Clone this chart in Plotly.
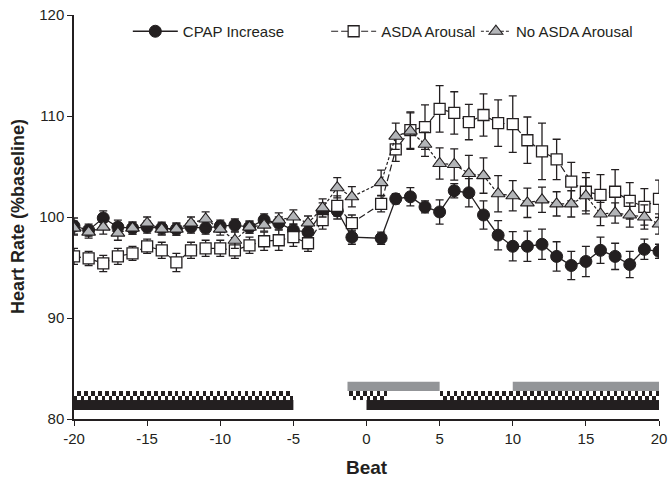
import numpy as np
import plotly.graph_objects as go

beats = list(range(-20, 0)) + list(range(1, 21))

cpap = [99.1, 98.7, 99.9, 99.0, 98.9, 99.0, 98.9, 98.8, 99.0, 98.9,
        99.1, 99.2, 99.0, 99.7, 99.4, 98.7, 98.5, 100.5, 100.6, 98.0,
        97.9, 101.8, 102.0, 101.0, 100.5, 102.6, 102.4, 100.2, 98.2, 97.1,
        97.1, 97.3, 96.1, 95.2, 95.6, 96.7, 96.1, 95.3, 96.8, 96.6]
cpap_err = [0.8, 0.6, 0.7, 0.7, 0.6, 0.6, 0.6, 0.6, 0.6, 0.6,
            0.6, 0.6, 0.6, 0.6, 0.6, 0.6, 0.6, 0.9, 0.8, 0.7,
            0.6, 0.5, 0.9, 0.6, 1.2, 0.7, 1.4, 1.4, 1.45, 1.45,
            1.5, 1.5, 1.45, 1.4, 1.5, 1.3, 1.3, 1.3, 1.0, 0.7]

asda = [96.1, 95.9, 95.4, 96.1, 96.4, 97.1, 96.7, 95.5, 96.7, 96.9,
        96.9, 96.7, 97.2, 97.6, 97.7, 98.0, 97.4, 99.7, 101.1, 99.4,
        101.3, 106.7, 108.6, 108.9, 110.7, 110.3, 109.4, 110.1, 109.3, 109.2,
        107.6, 106.5, 105.7, 103.5, 102.5, 102.2, 102.5, 101.6, 101.0, 101.8]
asda_err = [0.8, 0.7, 0.8, 0.8, 0.7, 0.7, 0.8, 0.9, 0.8, 0.8,
            0.8, 0.8, 0.8, 0.9, 1.0, 0.9, 0.8, 0.9, 1.0, 0.8,
            0.8, 1.2, 1.8, 2.2, 2.3, 2.1, 1.75, 2.1, 2.3, 2.8,
            2.3, 2.8, 2.0, 1.9, 1.9, 2.0, 2.2, 1.8, 1.8, 1.85]

noasda = [98.9, 98.5, 99.0, 98.4, 98.9, 99.4, 98.8, 98.8, 99.4, 99.8,
          98.8, 97.7, 99.0, 99.2, 99.7, 100.0, 99.4, 100.9, 102.9, 102.0,
          103.4, 108.0, 108.5, 107.2, 105.3, 105.2, 104.3, 104.1, 102.3, 102.1,
          101.4, 101.7, 101.3, 101.3, 102.1, 100.3, 100.4, 100.2, 100.0, 99.3]
noasda_err = [0.7, 0.6, 0.7, 0.7, 0.6, 0.6, 0.6, 0.6, 0.6, 0.7,
              0.6, 0.8, 0.6, 0.6, 0.7, 0.7, 0.7, 0.9, 1.0, 1.0,
              1.25, 1.3, 1.8, 1.2, 1.55, 1.55, 1.8, 1.75, 1.8, 1.5,
              1.45, 1.25, 1.2, 1.3, 1.8, 1.15, 1.0, 1.2, 1.2, 1.0]

x_ticks = [-20, -15, -10, -5, 0, 5, 10, 15, 20]
x_ticklabels = ["-20", "-15", "-10", "-5", "0", "5", "10", "15", "20"]
y_ticks = [80, 90, 100, 110, 120]

# Phase bars (beat ranges)
black_segments = [(-20, -5), (0, 20)]
checker_segments = [(-20, -5), (-1.3, 1.35), (5, 20)]
grey_segments = [(-1.3, 5), (10, 20)]

grey_y = (82.77, 83.69)
checker_y = (81.88, 82.77)
black_y = (80.89, 81.88)

FONT = "Liberation Sans, Arial, sans-serif"
INK = "#231f20"

fig = go.Figure()

shapes = []
for x0, x1 in black_segments:
    shapes.append(dict(type="rect", xref="x", yref="y", x0=x0, x1=x1,
                       y0=black_y[0], y1=black_y[1], fillcolor=INK,
                       line=dict(width=0), layer="below"))
for x0, x1 in grey_segments:
    shapes.append(dict(type="rect", xref="x", yref="y", x0=x0, x1=x1,
                       y0=grey_y[0], y1=grey_y[1], fillcolor="#939598",
                       line=dict(width=0), layer="below"))

# checkered bars as heatmap
ncell = 168
edges = np.linspace(-20, 20, ncell + 1)
centers = (edges[:-1] + edges[1:]) / 2
yedges = [checker_y[0], (checker_y[0] + checker_y[1]) / 2, checker_y[1]]
z = np.full((2, ncell), np.nan)
for j in range(2):
    for i, c in enumerate(centers):
        if any(a <= c <= b for a, b in checker_segments):
            z[j, i] = (i + j) % 2
fig.add_trace(go.Heatmap(x=edges, y=yedges, z=z, showscale=False,
                         colorscale=[[0, INK], [1, "#ffffff"]],
                         zmin=0, zmax=1, hoverinfo="skip", showlegend=False))

err_style = dict(type="data", color=INK, thickness=1.3, width=4)

fig.add_trace(go.Scatter(
    x=beats, y=cpap, name="CPAP Increase", mode="lines+markers",
    legend="legend",
    line=dict(color=INK, width=1.3),
    marker=dict(symbol="circle", size=12, color=INK,
                line=dict(color=INK, width=1)),
    error_y=dict(array=cpap_err, **err_style)))

fig.add_trace(go.Scatter(
    x=beats, y=asda, name="ASDA Arousal", mode="lines+markers",
    legend="legend2",
    line=dict(color=INK, width=1.2, dash="7px,3px"),
    marker=dict(symbol="square", size=11, color="white",
                line=dict(color=INK, width=1.3)),
    error_y=dict(array=asda_err, **err_style)))

fig.add_trace(go.Scatter(
    x=beats, y=noasda, name="No ASDA Arousal", mode="lines+markers",
    legend="legend3",
    line=dict(color=INK, width=1.2, dash="3px,2px"),
    marker=dict(symbol="triangle-up", size=12, color="#b3b5b8",
                line=dict(color=INK, width=1.1)),
    error_y=dict(array=noasda_err, **err_style)))

leg_common = dict(orientation="h", xanchor="left", y=1.0, yanchor="top",
                  font=dict(size=15, family=FONT, color=INK),
                  bgcolor="rgba(0,0,0,0)")

fig.update_layout(
    width=669, height=479,
    margin=dict(l=74, r=10, t=15, b=60, autoexpand=False),
    paper_bgcolor="white", plot_bgcolor="white",
    font=dict(family=FONT, color=INK, size=15),
    shapes=shapes,
    showlegend=True,
    legend=dict(x=0.092, itemwidth=45, **leg_common),
    legend2=dict(x=0.4310, itemwidth=45, **leg_common),
    legend3=dict(x=0.6870, itemwidth=30, **leg_common),
    xaxis=dict(range=[-20, 20], tickvals=x_ticks, ticktext=x_ticklabels,
               showgrid=False, zeroline=False, showline=True, automargin=False,
               linecolor=INK, linewidth=1.5, ticks="outside",
               ticklen=5, tickcolor=INK, tickwidth=1.2,
               tickfont=dict(size=15)),
    yaxis=dict(range=[80, 120], tickvals=y_ticks,
               showgrid=False, zeroline=False, showline=True, automargin=False,
               linecolor=INK, linewidth=1.5, ticks="outside",
               ticklen=5, tickcolor=INK, tickwidth=1.2,
               tickfont=dict(size=15)),
    annotations=[
        dict(text="<b>Beat</b>", xref="paper", yref="paper", x=0.5, y=0,
             yshift=-48, showarrow=False, font=dict(size=19),
             xanchor="center", yanchor="middle"),
        dict(text="<b>Heart Rate (%baseline)</b>", xref="paper", yref="paper",
             x=0, xshift=-56, y=0.5, showarrow=False, textangle=-90,
             font=dict(size=18), xanchor="center", yanchor="middle"),
    ],
)

fig.write_html("out.html")
